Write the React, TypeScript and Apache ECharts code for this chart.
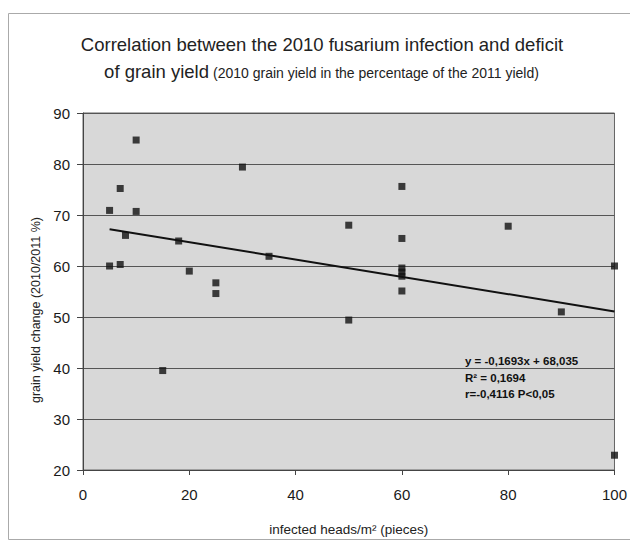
import React, { useEffect, useRef } from "react";
import * as echarts from "echarts";

const infectedHeads = [5, 5, 7, 7, 8, 10, 10, 15, 18, 20, 25, 25, 30, 35, 50, 50, 60, 60, 60, 60, 60, 60, 80, 90, 100, 100];
const yieldChange = [70.9, 60.0, 75.2, 60.3, 66.0, 84.7, 70.7, 39.5, 64.9, 59.0, 56.7, 54.6, 79.4, 61.9, 68.0, 49.4, 75.6, 65.4, 59.6, 58.8, 58.0, 55.1, 67.8, 51.0, 60.0, 22.9];
const trendX = [5, 100];
const trendY = [67.2, 51.1];
const titleLine1 = "Correlation between the 2010 fusarium infection and deficit";
const titleLine2a = "of grain yield";
const titleLine2b = "(2010 grain yield in the percentage of the 2011 yield)";
const equationLines = ["y = -0,1693x + 68,035", "R\u00B2 = 0,1694", "r=-0,4116 P<0,05"];
const yAxisName = "grain yield change (2010/2011 %)";
const xAxisName = "infected heads/m\u00B2 (pieces)";

const FONT = "'Liberation Sans', Arial, Helvetica, sans-serif";

export default function App() {
  const ref = useRef<HTMLDivElement>(null);
  useEffect(() => {
    if (!ref.current) return;
    const chart = echarts.init(ref.current, null, { renderer: "svg" });
    const points = infectedHeads.map((x, i) => [x, yieldChange[i]]);
    const trend = trendX.map((x, i) => [x, trendY[i]]);
    chart.setOption({
      animation: false,
      backgroundColor: "#ffffff",
      grid: {
        left: 83,
        top: 113,
        right: 15,
        bottom: 69,
        show: true,
        backgroundColor: "#d8d8d8",
        borderColor: "#666",
        borderWidth: 1,
      },
      xAxis: {
        type: "value",
        min: 0,
        max: 100,
        interval: 20,
        name: xAxisName,
        nameLocation: "middle",
        nameGap: 52,
        nameTextStyle: { fontFamily: FONT, fontSize: 13.5, color: "#222" },
        axisLine: { show: true, lineStyle: { color: "#444", width: 1 } },
        axisTick: { show: true, length: 5, lineStyle: { color: "#444" } },
        axisLabel: { margin: 17, fontFamily: FONT, fontSize: 15, color: "#1a1a1a" },
        splitLine: { show: false },
      },
      yAxis: {
        type: "value",
        min: 20,
        max: 90,
        interval: 10,
        axisLine: { show: true, lineStyle: { color: "#444", width: 1 } },
        axisTick: { show: true, length: 6, lineStyle: { color: "#444" } },
        axisLabel: { margin: 13, fontFamily: FONT, fontSize: 15, color: "#1a1a1a" },
        splitLine: { show: true, lineStyle: { color: "#555", width: 1 } },
      },
      series: [
        {
          type: "scatter",
          data: points,
          symbol: "rect",
          symbolSize: 7,
          itemStyle: { color: "#111" },
          clip: false,
          z: 3,
        },
        {
          type: "line",
          data: trend,
          symbol: "none",
          lineStyle: { color: "#111", width: 2 },
          z: 2,
        },
      ],
      graphic: [
        {
          type: "rect",
          shape: { x: 8.5, y: 13.5, width: 640, height: 526 },
          style: { fill: "none", stroke: "#aaa", lineWidth: 1 },
          silent: true,
        },
        {
          type: "text",
          x: 322,
          y: 44,
          style: { text: titleLine1, fontFamily: FONT, fontSize: 18.5, fill: "#222", align: "center", verticalAlign: "middle" },
        },
        {
          type: "text",
          x: 209,
          y: 71,
          style: { text: titleLine2a, fontFamily: FONT, fontSize: 18.5, fill: "#222", align: "right", verticalAlign: "middle" },
        },
        {
          type: "text",
          x: 213,
          y: 72.5,
          style: { text: titleLine2b, fontFamily: FONT, fontSize: 14, fill: "#222", align: "left", verticalAlign: "middle" },
        },
        {
          type: "text",
          x: 36,
          y: 310,
          rotation: Math.PI / 2,
          style: { text: yAxisName, fontFamily: FONT, fontSize: 12.5, fill: "#222", align: "center", verticalAlign: "middle" },
        },
        ...equationLines.map((t, i) => ({
          type: "text",
          x: 465,
          y: [360.5, 377.5, 393.5][i],
          style: { text: t, fontFamily: FONT, fontSize: 11.5, fontWeight: "bold", fill: "#111", align: "left", verticalAlign: "middle" },
        })),
      ],
    });
    return () => chart.dispose();
  }, []);
  return <div ref={ref} style={{ position: "fixed", left: 0, top: 0, width: 630, height: 541 }} />;
}
